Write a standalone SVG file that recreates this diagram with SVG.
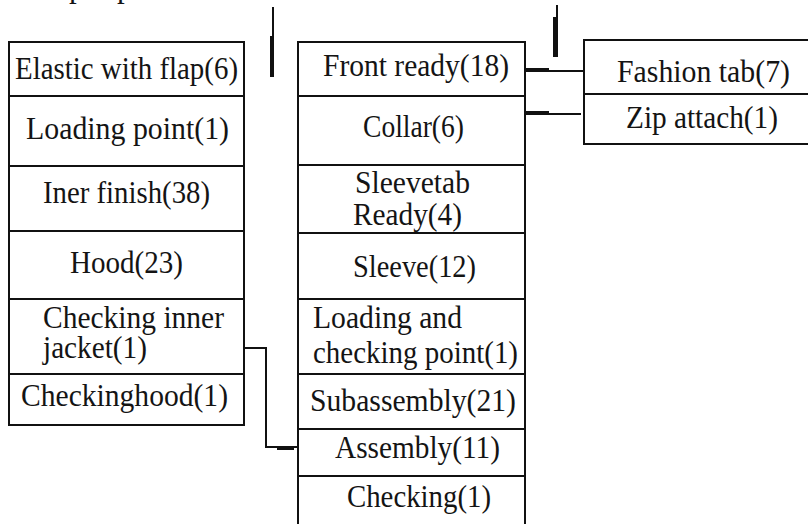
<svg xmlns="http://www.w3.org/2000/svg" width="808" height="524" viewBox="0 0 808 524">
  <style>
    .cell { fill: #ffffff; stroke: #111111; stroke-width: 2; }
    .wire { fill: none; stroke: #111111; stroke-width: 2; }
    .heavy { fill: none; stroke: #111111; stroke-width: 4; }
  </style>

  <rect x="0" y="0" width="808" height="524" fill="#ffffff"/>

  <g font-family="Liberation Serif, serif" font-size="31" fill="#141414">
  <!-- remnants of the heading line above -->
  <text x="69" y="-3">p</text>
  <text x="117" y="-3">p</text>

  <!-- left column -->
  <g id="elastic-with-flap">
    <rect class="cell" x="9" y="42" width="235" height="54"/>
    <text x="15" y="79" textLength="223" lengthAdjust="spacingAndGlyphs">Elastic with flap(6)</text>
  </g>
  <g id="loading-point">
    <rect class="cell" x="9" y="96" width="235" height="70"/>
    <text x="26" y="139" textLength="203" lengthAdjust="spacingAndGlyphs">Loading point(1)</text>
  </g>
  <g id="iner-finish">
    <rect class="cell" x="9" y="166" width="235" height="65"/>
    <text x="43" y="203" textLength="167" lengthAdjust="spacingAndGlyphs">Iner finish(38)</text>
  </g>
  <g id="hood">
    <rect class="cell" x="9" y="231" width="235" height="68"/>
    <text x="70" y="273" textLength="113" lengthAdjust="spacingAndGlyphs">Hood(23)</text>
  </g>
  <g id="checking-inner-jacket">
    <rect class="cell" x="9" y="299" width="235" height="75"/>
    <text><tspan x="43" y="328" textLength="181" lengthAdjust="spacingAndGlyphs">Checking inner</tspan><tspan x="43" y="358" textLength="104" lengthAdjust="spacingAndGlyphs">jacket(1)</tspan></text>
  </g>
  <g id="checkinghood">
    <rect class="cell" x="9" y="374" width="235" height="51"/>
    <text x="21" y="406" textLength="207" lengthAdjust="spacingAndGlyphs">Checkinghood(1)</text>
  </g>

  <!-- middle column -->
  <g id="front-ready">
    <rect class="cell" x="298" y="42" width="227" height="54"/>
    <text x="323" y="76" textLength="186" lengthAdjust="spacingAndGlyphs">Front ready(18)</text>
  </g>
  <g id="collar">
    <rect class="cell" x="298" y="96" width="227" height="69"/>
    <text x="363" y="137" textLength="101" lengthAdjust="spacingAndGlyphs">Collar(6)</text>
  </g>
  <g id="sleevetab-ready">
    <rect class="cell" x="298" y="165" width="227" height="68"/>
    <text><tspan x="355" y="193" textLength="115" lengthAdjust="spacingAndGlyphs">Sleevetab</tspan><tspan x="353" y="225" textLength="109" lengthAdjust="spacingAndGlyphs">Ready(4)</tspan></text>
  </g>
  <g id="sleeve">
    <rect class="cell" x="298" y="233" width="227" height="66"/>
    <text x="353" y="277" textLength="123" lengthAdjust="spacingAndGlyphs">Sleeve(12)</text>
  </g>
  <g id="loading-and-checking-point">
    <rect class="cell" x="298" y="299" width="227" height="75"/>
    <text><tspan x="313" y="328" textLength="149" lengthAdjust="spacingAndGlyphs">Loading and</tspan><tspan x="313" y="363" textLength="205" lengthAdjust="spacingAndGlyphs">checking point(1)</tspan></text>
  </g>
  <g id="subassembly">
    <rect class="cell" x="298" y="374" width="227" height="55"/>
    <text x="310" y="411" textLength="206" lengthAdjust="spacingAndGlyphs">Subassembly(21)</text>
  </g>
  <g id="assembly">
    <rect class="cell" x="298" y="429" width="227" height="47"/>
    <text x="335" y="458" textLength="165" lengthAdjust="spacingAndGlyphs">Assembly(11)</text>
  </g>
  <g id="checking">
    <rect class="cell" x="298" y="476" width="227" height="60"/>
    <text x="347" y="507" textLength="144" lengthAdjust="spacingAndGlyphs">Checking(1)</text>
  </g>

  <!-- right column -->
  <g id="fashion-tab">
    <rect class="cell" x="584" y="40" width="240" height="54"/>
    <text x="617" y="82" textLength="173" lengthAdjust="spacingAndGlyphs">Fashion tab(7)</text>
  </g>
  <g id="zip-attach">
    <rect class="cell" x="584" y="94" width="240" height="50"/>
    <text x="626" y="128" textLength="152" lengthAdjust="spacingAndGlyphs">Zip attach(1)</text>
  </g>
  </g>

  <!-- connectors -->
  <g id="connectors">
    <!-- Front ready to Fashion tab -->
    <path class="wire" d="M525 71 H584"/>
    <path class="heavy" d="M524 70 H549"/>
    <!-- Collar to Zip attach -->
    <path class="wire" d="M525 114 H581"/>
    <path class="heavy" d="M525 113 H549"/>
    <!-- Checking inner jacket to Assembly -->
    <path class="wire" d="M244 348 H266 V447 H298"/>
    <path class="heavy" d="M277 448 H294"/>
    <!-- vertical stubs from the top -->
    <path class="wire" d="M273 7 V77"/>
    <path class="heavy" d="M272 36 V77"/>
    <path class="wire" d="M557 5 V57"/>
    <path class="heavy" d="M555 17 V57"/>
  </g>
</svg>
